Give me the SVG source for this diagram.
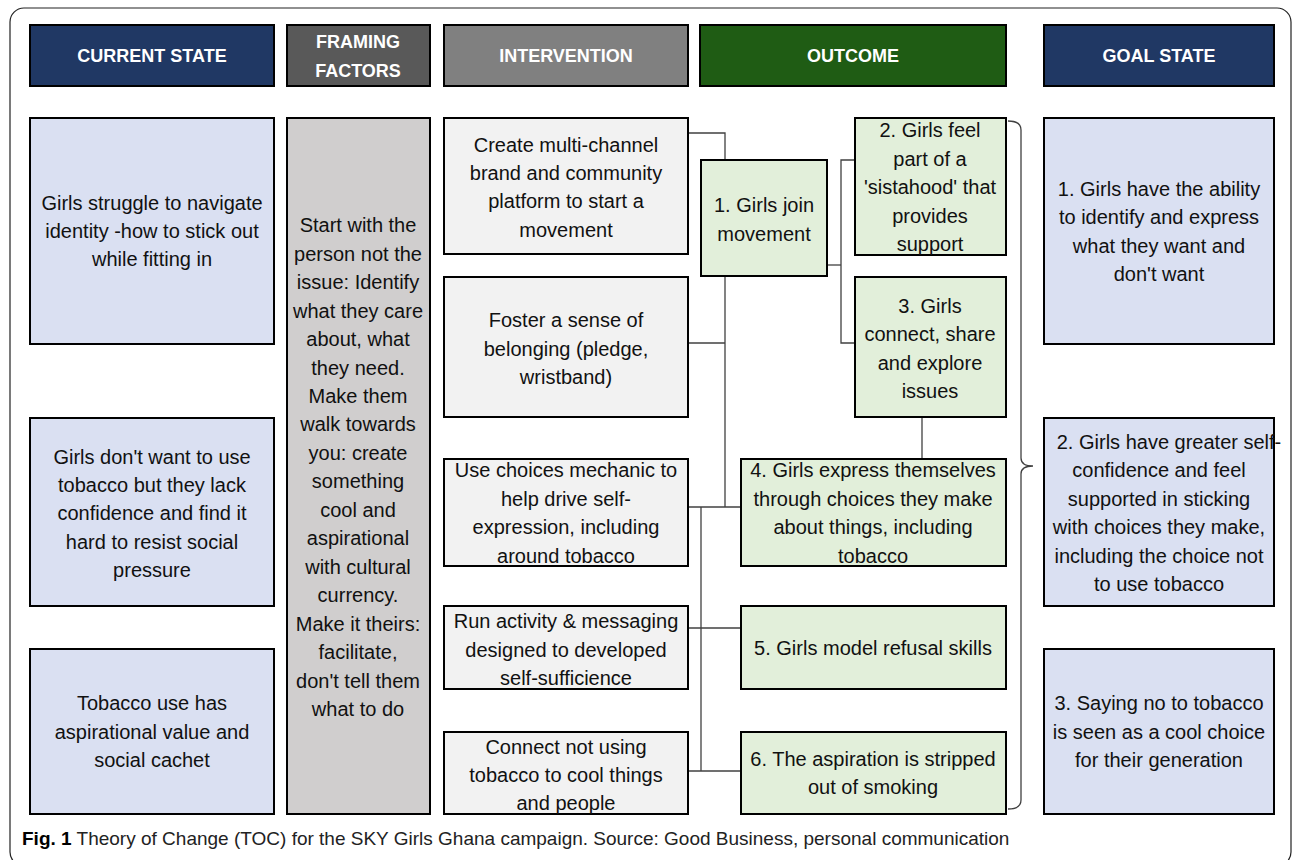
<svg xmlns="http://www.w3.org/2000/svg" width="1292" height="860" viewBox="0 0 1292 860">
<style>
text{font-family:"Liberation Sans",Arial,sans-serif;font-size:20px;fill:#111;text-anchor:middle;dominant-baseline:central}
.h{font-weight:bold;fill:#fff;font-size:18px}
.box{stroke:#000;stroke-width:2}
.cs{fill:#dae0f2}
.ff{fill:#d0cece}
.iv{fill:#f2f2f2}
.oc{fill:#e2efda}
.con{fill:none;stroke:#404040;stroke-width:1.3}
.cap{text-anchor:start;font-size:19px;fill:#222;dominant-baseline:auto}
</style>
<rect x="10" y="8" width="1281" height="858" rx="14" fill="#fff" stroke="#222" stroke-width="1.2"/>

<g id="headers">
<g id="h-current"><rect class="box" x="30" y="25" width="244" height="61" fill="#203864"/><text class="h" x="152" y="56">CURRENT STATE</text></g>
<g id="h-framing"><rect class="box" x="287" y="25" width="143" height="61" fill="#595959"/><text class="h" x="358" y="42">FRAMING</text><text class="h" x="358" y="71">FACTORS</text></g>
<g id="h-intervention"><rect class="box" x="444" y="25" width="244" height="61" fill="#808080"/><text class="h" x="566" y="56">INTERVENTION</text></g>
<g id="h-outcome"><rect class="box" x="700" y="25" width="306" height="61" fill="#1f5c14"/><text class="h" x="853" y="56">OUTCOME</text></g>
<g id="h-goal"><rect class="box" x="1044" y="25" width="230" height="61" fill="#203864"/><text class="h" x="1159" y="56">GOAL STATE</text></g>
</g>

<g id="connectors" class="con">
<polyline points="688,133 725,133 725,160"/>
<polyline points="725,276 725,507"/>
<line x1="688" y1="343" x2="725" y2="343"/>
<line x1="688" y1="507" x2="741" y2="507"/>
<polyline points="701,507 701,771"/>
<line x1="688" y1="628" x2="741" y2="628"/>
<line x1="688" y1="771" x2="741" y2="771"/>
<line x1="827" y1="265" x2="841" y2="265"/>
<polyline points="855,160 841,160 841,343 855,343"/>
<line x1="922" y1="417" x2="922" y2="459"/>
<path d="M1008,121 Q1021,121 1021,130 L1021,458 Q1021,466 1033,466 Q1021,466 1021,474 L1021,800 Q1021,809 1008,809"/>
</g>

<g id="cs1"><rect class="box cs" x="30" y="118" width="244" height="226"/>
<text x="152" y="203">Girls struggle to navigate</text><text x="152" y="231">identity -how to stick out</text><text x="152" y="259">while fitting in</text></g>
<g id="cs2"><rect class="box cs" x="30" y="418" width="244" height="188"/>
<text x="152" y="457">Girls don't want to use</text><text x="152" y="485">tobacco but they lack</text><text x="152" y="513">confidence and find it</text><text x="152" y="542">hard to resist social</text><text x="152" y="570">pressure</text></g>
<g id="cs3"><rect class="box cs" x="30" y="649" width="244" height="165"/>
<text x="152" y="703">Tobacco use has</text><text x="152" y="732">aspirational value and</text><text x="152" y="760">social cachet</text></g>

<g id="framing"><rect class="box ff" x="287" y="118" width="143" height="696"/>
<text x="358" y="225">Start with the</text><text x="358" y="254">person not the</text><text x="358" y="282">issue: Identify</text><text x="358" y="311">what they care</text><text x="358" y="339">about, what</text><text x="358" y="368">they need.</text><text x="358" y="396">Make them</text><text x="358" y="424">walk towards</text><text x="358" y="453">you: create</text><text x="358" y="481">something</text><text x="358" y="510">cool and</text><text x="358" y="538">aspirational</text><text x="358" y="567">with cultural</text><text x="358" y="595">currency.</text><text x="358" y="624">Make it theirs:</text><text x="358" y="652">facilitate,</text><text x="358" y="681">don't tell them</text><text x="358" y="709">what to do</text></g>

<g id="iv1"><rect class="box iv" x="444" y="118" width="244" height="136"/>
<text x="566" y="145">Create multi-channel</text><text x="566" y="173">brand and community</text><text x="566" y="201">platform to start a</text><text x="566" y="230">movement</text></g>
<g id="iv2"><rect class="box iv" x="444" y="277" width="244" height="140"/>
<text x="566" y="320">Foster a sense of</text><text x="566" y="349">belonging (pledge,</text><text x="566" y="377">wristband)</text></g>
<g id="iv3"><rect class="box iv" x="444" y="459" width="244" height="107"/>
<text x="566" y="470">Use choices mechanic to</text><text x="566" y="499">help drive self-</text><text x="566" y="527">expression, including</text><text x="566" y="556">around tobacco</text></g>
<g id="iv4"><rect class="box iv" x="444" y="606" width="244" height="83"/>
<text x="566" y="621">Run activity &amp; messaging</text><text x="566" y="650">designed to developed</text><text x="566" y="678">self-sufficience</text></g>
<g id="iv5"><rect class="box iv" x="444" y="732" width="244" height="82"/>
<text x="566" y="747">Connect not using</text><text x="566" y="775">tobacco to cool things</text><text x="566" y="803">and people</text></g>

<g id="oc1"><rect class="box oc" x="701" y="160" width="126" height="116"/>
<text x="764" y="205">1. Girls join</text><text x="764" y="234">movement</text></g>
<g id="oc2"><rect class="box oc" x="855" y="118" width="151" height="137"/>
<text x="930" y="130">2. Girls feel</text><text x="930" y="159">part of a</text><text x="930" y="187">'sistahood' that</text><text x="930" y="216">provides</text><text x="930" y="244">support</text></g>
<g id="oc3"><rect class="box oc" x="855" y="277" width="151" height="140"/>
<text x="930" y="306">3. Girls</text><text x="930" y="334">connect, share</text><text x="930" y="363">and explore</text><text x="930" y="391">issues</text></g>
<g id="oc4"><rect class="box oc" x="741" y="459" width="265" height="107"/>
<text x="873" y="470">4. Girls express themselves</text><text x="873" y="499">through choices they make</text><text x="873" y="527">about things, including</text><text x="873" y="556">tobacco</text></g>
<g id="oc5"><rect class="box oc" x="741" y="606" width="265" height="83"/>
<text x="873" y="648">5. Girls model refusal skills</text></g>
<g id="oc6"><rect class="box oc" x="741" y="732" width="265" height="82"/>
<text x="873" y="759">6. The aspiration is stripped</text><text x="873" y="787">out of smoking</text></g>

<g id="gs1"><rect class="box cs" x="1044" y="118" width="230" height="226"/>
<text x="1159" y="189">1. Girls have the ability</text><text x="1159" y="217">to identify and express</text><text x="1159" y="246">what they want and</text><text x="1159" y="274">don't want</text></g>
<g id="gs2"><rect class="box cs" x="1044" y="418" width="230" height="188"/>
<text x="1169" y="442">2. Girls have greater self-</text><text x="1159" y="470">confidence and feel</text><text x="1159" y="499">supported in sticking</text><text x="1159" y="527">with choices they make,</text><text x="1159" y="556">including the choice not</text><text x="1159" y="584">to use tobacco</text></g>
<g id="gs3"><rect class="box cs" x="1044" y="649" width="230" height="165"/>
<text x="1159" y="703">3. Saying no to tobacco</text><text x="1159" y="732">is seen as a cool choice</text><text x="1159" y="760">for their generation</text></g>

<text class="cap" x="22" y="845"><tspan font-weight="bold" fill="#000">Fig. 1</tspan> Theory of Change (TOC) for the SKY Girls Ghana campaign. Source: Good Business, personal communication</text>
</svg>
